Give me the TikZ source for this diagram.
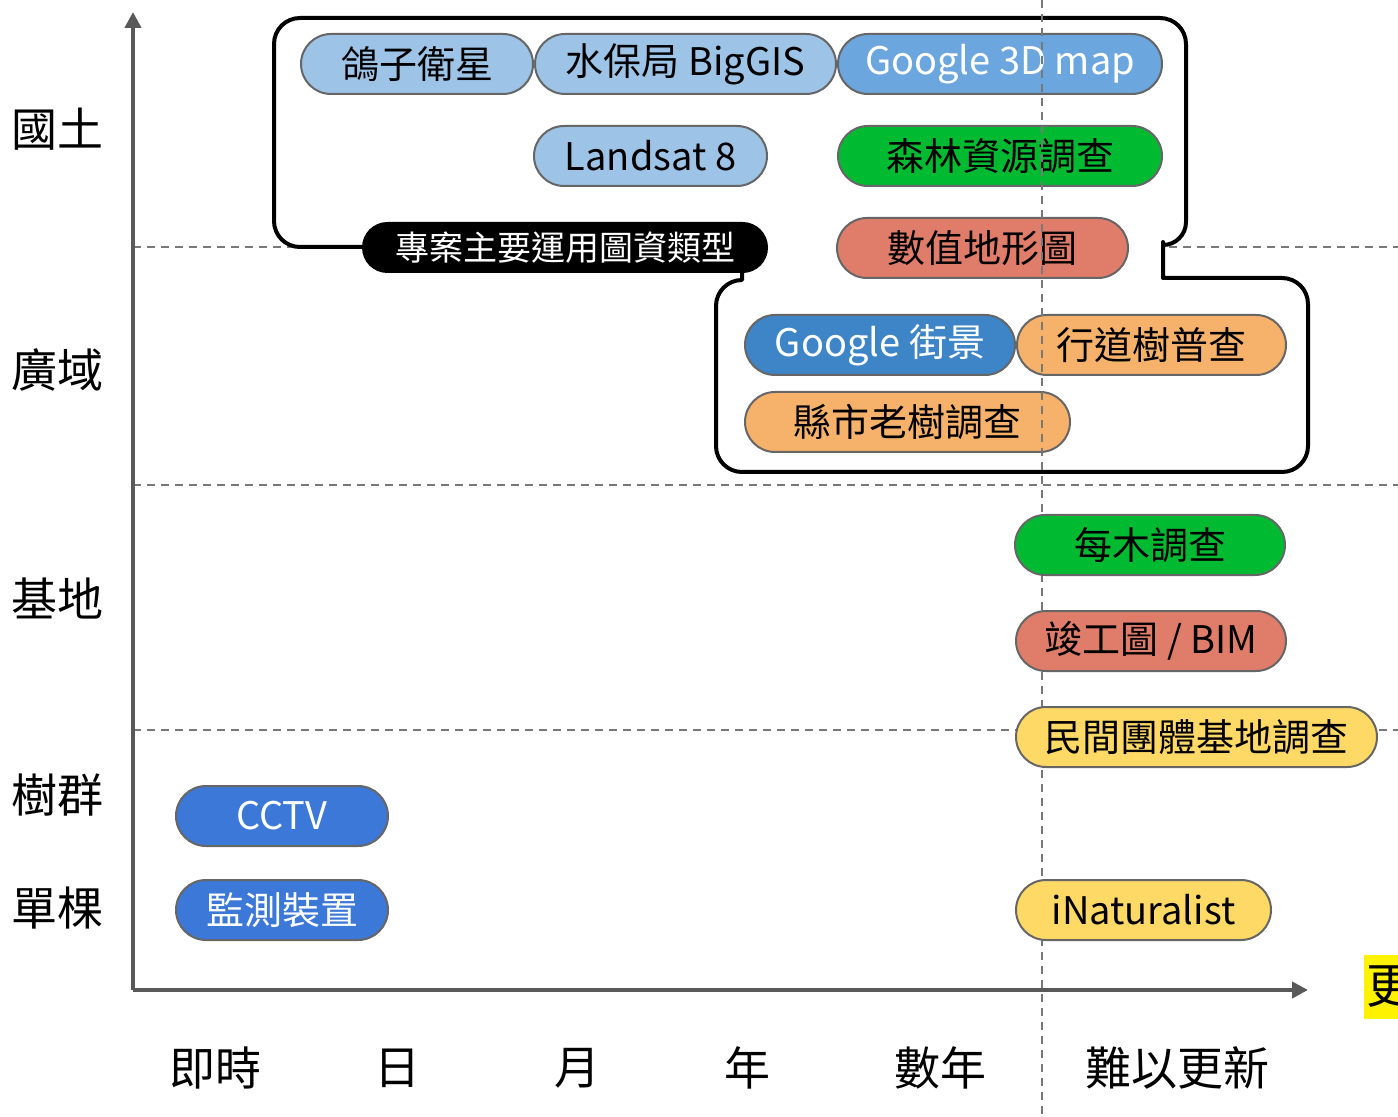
\documentclass[tikz,border=0pt]{standalone}
\usepackage{fontspec}
\setmainfont{Noto Sans CJK TC}
\usetikzlibrary{arrows.meta}
\definecolor{lb}{RGB}{157,195,230}
\definecolor{mb}{RGB}{108,166,222}
\definecolor{sb}{RGB}{61,133,198}
\definecolor{cb}{RGB}{60,120,216}
\definecolor{gr}{RGB}{0,187,50}
\definecolor{sa}{RGB}{224,124,106}
\definecolor{og}{RGB}{246,178,107}
\definecolor{ye}{RGB}{255,217,102}
\definecolor{pb}{RGB}{102,102,102}
\definecolor{ax}{RGB}{89,89,89}
\definecolor{dg}{RGB}{120,120,120}
\tikzset{
  pill/.style={draw=pb, line width=1pt, rounded corners=15pt, minimum height=30pt,
    inner sep=0pt, font=\fontsize{19pt}{22pt}\selectfont, text=black},
  whitetext/.style={text=white},
  axisline/.style={draw=ax, line width=2pt, -{Triangle[length=8pt,width=8pt]}},
  guide/.style={draw=dg, line width=1pt, dash pattern=on 4pt off 3pt},
  axlabel/.style={font=\fontsize{23pt}{26pt}\selectfont, inner sep=0pt},
  bracket/.style={draw=black, line width=2pt, line join=round, fill=white}
}
\begin{document}
\begin{tikzpicture}[x=0.5pt,y=-0.5pt]
\useasboundingbox (0,0) rectangle (1398,1117);
% horizontal guides
\coordinate (h1a) at (133,247); \coordinate (h1b) at (1398,247);
\coordinate (h2a) at (133,485); \coordinate (h2b) at (1398,485);
\coordinate (h3a) at (133,730); \coordinate (h3b) at (1398,730);
\draw[guide] (h1a) -- (h1b);
\draw[guide] (h2a) -- (h2b);
\draw[guide] (h3a) -- (h3b);
% axes
\coordinate (o) at (133,990);
\coordinate (ytip) at (133,12);
\coordinate (xtip) at (1308,990);
\draw[axisline] (o) -- (ytip);
\draw[axisline] (o) -- (xtip);
% bracket outline
\draw[bracket] (365,247) -- (300,247)
  .. controls (285.6,247) and (274,235.4) .. (274,221)
  -- (274,44)
  .. controls (274,29.6) and (285.6,18) .. (300,18)
  -- (1160,18)
  .. controls (1174.4,18) and (1186,29.6) .. (1186,44)
  -- (1186,222)
  .. controls (1186,234.7) and (1175.7,245) .. (1163,245)
  -- (1163,242) -- (1163,278)
  -- (1282,278)
  .. controls (1296.4,278) and (1308,289.6) .. (1308,304)
  -- (1308,446)
  .. controls (1308,460.4) and (1296.4,472) .. (1282,472)
  -- (742,472)
  .. controls (727.6,472) and (716,460.4) .. (716,446)
  -- (716,306)
  .. controls (716,291.6) and (727.6,280) .. (742,280)
  -- (742,270);
% upper pills
\node[pill, fill=lb, minimum width=116pt] (g1) at (417,64) {鴿子衛星};
\node[pill, fill=lb, minimum width=150.5pt] (g2) at (685.5,64) {水保局 BigGIS};
\node[pill, fill=mb, whitetext, minimum width=162pt] (g3) at (1000,64) {Google 3D map};
\node[pill, fill=lb, minimum width=116.5pt] (g4) at (650.5,156) {Landsat 8};
\node[pill, fill=gr, minimum width=162pt] (g5) at (1000,156) {森林資源調查};
\node[pill, fill=black, draw=black, whitetext, minimum width=202pt, minimum height=24.5pt,
  rounded corners=12.25pt, font=\fontsize{17pt}{20pt}\selectfont] (lbl) at (565,247.5) {專案主要運用圖資類型};
\node[pill, fill=sa, minimum width=145.5pt] (g6) at (982.5,248) {數值地形圖};
\node[pill, fill=sb, whitetext, minimum width=135pt] (g7) at (880,345) {Google 街景};
\node[pill, fill=og, minimum width=134.5pt] (g8) at (1151.5,345) {行道樹普查};
\node[pill, fill=og, minimum width=162.5pt] (g9) at (907.5,422) {縣市老樹調查};
% vertical guide
\coordinate (va) at (1042,0); \coordinate (vb) at (1042,1117);
\draw[guide] (va) -- (vb);
% lower pills
\node[pill, fill=gr, minimum width=135pt] (g10) at (1150,545) {每木調查};
\node[pill, fill=sa, minimum width=135pt] (g11) at (1151,641) {竣工圖 / BIM};
\node[pill, fill=ye, minimum width=180.5pt] (g12) at (1196.5,737) {民間團體基地調查};
\node[pill, fill=cb, whitetext, minimum width=106pt] (g13) at (282,816) {CCTV};
\node[pill, fill=cb, whitetext, minimum width=106pt] (g14) at (282,910) {監測裝置};
\node[pill, fill=ye, minimum width=127.5pt] (g15) at (1143.5,910) {iNaturalist};
% axis labels
\node[axlabel] (l1) at (57,129) {國土};
\node[axlabel] (l2) at (57,370) {廣域};
\node[axlabel] (l3) at (57,598) {基地};
\node[axlabel] (l4) at (57,795) {樹群};
\node[axlabel] (l5) at (57,908) {單棵};
\node[axlabel] (b1) at (215,1068) {即時};
\node[axlabel] (b2) at (397,1068) {日};
\node[axlabel] (b3) at (577,1068) {月};
\node[axlabel] (b4) at (747,1068) {年};
\node[axlabel] (b5) at (940,1068) {數年};
\node[axlabel] (b6) at (1177,1068) {難以更新};
% cut-off yellow label at right edge
\node[fill=yellow, anchor=west, inner xsep=1pt, inner ysep=0pt, minimum height=32pt,
  font=\fontsize{24pt}{26pt}\selectfont] (upd) at (1364,987) {更};
\end{tikzpicture}
\end{document}
